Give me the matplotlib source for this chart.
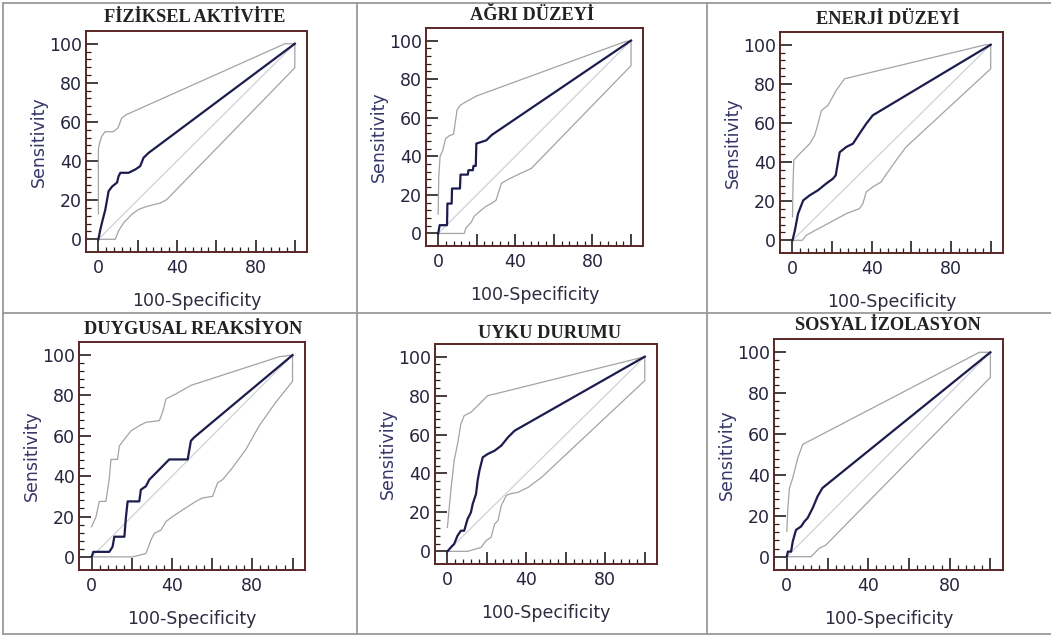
import matplotlib
matplotlib.use("Agg")
import matplotlib.pyplot as plt
from matplotlib.ticker import FixedLocator
from matplotlib.lines import Line2D

titles = ["FİZİKSEL AKTİVİTE", "AĞRI DÜZEYİ", "ENERJİ DÜZEYİ",
          "DUYGUSAL REAKSİYON", "UYKU DURUMU", "SOSYAL İZOLASYON"]

x_label = "100-Specificity"
y_label = "Sensitivity"
major_ticks = [0, 20, 40, 60, 80, 100]
x_tick_labels = ["0", "", "40", "", "80", ""]
y_tick_labels = ["0", "20", "40", "60", "80", "100"]

# --- Panel 1: FİZİKSEL AKTİVİTE ---
fa_roc_x = [0, 1, 2.2, 3.5, 4.4, 5.2, 7, 9.5, 10.3, 11.2, 15.4, 18.8, 21.3, 23, 25.6, 100]
fa_roc_y = [0, 5, 10, 15, 20, 24.6, 27, 29, 32.3, 34, 34, 35.7, 37.4, 41.7, 44.2, 100]
fa_up_x = [0, 0, 0.8, 1.7, 3.4, 7.6, 10, 11.9, 14.4, 95, 100]
fa_up_y = [13, 46, 50, 52.6, 55, 55, 57, 62, 63.8, 100, 100]
fa_lo_x = [0, 8.6, 10.3, 12.9, 14.6, 17.1, 20.5, 24.6, 31.4, 34.7, 100, 100]
fa_lo_y = [0, 0, 4.3, 8.5, 10.2, 12.8, 15.3, 16.8, 18.5, 20.2, 87.7, 100]

# --- Panel 2: AĞRI DÜZEYİ ---
ad_roc_x = [0, 0.8, 4.6, 4.8, 7, 7.2, 11.3, 11.6, 15.4, 15.7, 18, 18.3, 19.5, 19.8, 22, 25, 27.7, 100]
ad_roc_y = [0, 4.3, 4.3, 15.5, 15.5, 23.3, 23.3, 30.5, 30.5, 32.8, 32.8, 35, 35, 46.6, 47.3, 48.3, 51, 100]
ad_up_x = [0, 0.3, 1, 2.4, 3.8, 5.5, 8, 9.8, 11.5, 14, 20, 96.5, 100]
ad_up_y = [10, 29, 40, 43, 49, 50.5, 51.5, 64, 66.5, 68, 71.3, 99.3, 100]
ad_lo_x = [0, 13.5, 14.5, 17, 18.8, 22.2, 24.7, 27.5, 30, 32.8, 36.3, 41.5, 48.3, 100, 100]
ad_lo_y = [0, 0, 3, 5.6, 9, 12, 14, 15.5, 17.2, 26, 28, 30.6, 33.7, 87, 100]

# --- Panel 3: ENERJİ DÜZEYİ ---
ed_roc_x = [0, 1.2, 2.8, 5.4, 8.7, 12.9, 17, 20.4, 21.8, 23.8, 27.1, 30.5, 33.8, 37.2, 40.5, 100]
ed_roc_y = [0, 5, 13.6, 20.4, 23, 25.6, 29, 31.5, 33.2, 45, 47.7, 49.4, 54.5, 59.6, 63.9, 100]
ed_up_x = [0, 0.3, 0.7, 3.7, 8.7, 11.2, 12.9, 14.6, 17.9, 22.1, 26.3, 97.5, 100]
ed_up_y = [12, 30, 41, 44.3, 49.4, 53.7, 59.6, 66.4, 69, 76.7, 82.6, 100, 100]
ed_lo_x = [0, 5, 7, 27.1, 33.8, 35.5, 37.2, 40.5, 44.7, 46.4, 52.3, 57.3, 100, 100]
ed_lo_y = [0, 0, 2.6, 13.6, 16.2, 18.7, 24.7, 27.3, 29.8, 32.4, 40.9, 47.7, 87.7, 100]

# --- Panel 4: DUYGUSAL REAKSİYON ---
dr_roc_x = [0, 0.8, 8.8, 10.4, 11.3, 16.3, 17, 17.9, 23.7, 24.5, 27, 28.7, 33.7, 38.6, 47.8, 49.4, 51, 100]
dr_roc_y = [0, 2.5, 2.5, 5, 10, 10, 19, 27.5, 27.5, 33.3, 35, 38.3, 43.3, 48.3, 48.3, 57.5, 59.2, 100]
dr_up_x = [0, 2.2, 3.8, 7.1, 8.8, 9.6, 12.9, 13.8, 16.3, 19.6, 23.7, 27, 33.7, 35.3, 37, 42, 49.4, 93.4, 100]
dr_up_y = [15, 20, 27.5, 27.5, 39, 48.3, 48.3, 55, 58.3, 62.5, 65, 66.7, 67.5, 71.7, 78.3, 80.8, 85, 99.2, 100]
dr_lo_x = [0, 20.4, 23.7, 27, 29.5, 31.2, 34.5, 37, 40.3, 45.3, 51.9, 55.2, 60.2, 62.7, 65.2, 70.1, 76.8, 83.4, 91.7, 100, 100]
dr_lo_y = [0, 0, 0.8, 1.7, 8.3, 11.7, 13.3, 17.5, 20, 23.3, 27.5, 29.2, 30, 36.7, 38.3, 44.2, 53.3, 65, 76.7, 87, 100]

# --- Panel 5: UYKU DURUMU ---
ud_roc_x = [0, 1.7, 3.4, 5.1, 6.8, 8.5, 10.2, 11.9, 12.8, 14.5, 15.3, 16.2, 17.9, 20.4, 23.9, 27.3, 30.7, 34.1, 100]
ud_roc_y = [0, 2, 3.8, 8, 10.6, 10.6, 16.6, 20, 24.3, 29.5, 36.3, 41.4, 48.3, 50, 51.7, 54.3, 58.6, 62, 100]
ud_up_x = [0, 1.7, 3.4, 5.1, 6.8, 8.5, 11.9, 17, 20.4, 23.9, 95.4, 100]
ud_up_y = [12.3, 31, 46.6, 55, 65.4, 69.7, 71.4, 76.5, 80, 80.8, 98.8, 100]
ud_lo_x = [0, 10.2, 17, 19.6, 22.1, 23.9, 25.6, 27.3, 29.8, 31.5, 35.8, 40.9, 47.7, 100, 100]
ud_lo_y = [0, 0, 2, 5.5, 7.2, 14, 15.8, 23.5, 28.6, 29.5, 30.3, 32.9, 38, 87.7, 100]

# --- Panel 6: SOSYAL İZOLASYON ---
si_roc_x = [0, 0.5, 2.1, 2.9, 4.5, 7, 8.6, 10.2, 12.7, 15.1, 17.5, 21.6, 100]
si_roc_y = [0, 2.5, 2.5, 7.4, 13.1, 14.8, 17.2, 18.9, 23.8, 29.5, 33.6, 36.9, 100]
si_up_x = [0, 0.5, 1.3, 2.9, 5.4, 7.8, 11, 94.6, 100]
si_up_y = [12.3, 23.8, 33.6, 38.5, 48.4, 54.9, 56.6, 100, 100]
si_lo_x = [0, 11.9, 13.5, 15.9, 19.2, 21.6, 100, 100]
si_lo_y = [0, 0, 1.6, 4.1, 5.7, 8.2, 87.7, 100]

panels = [
    (fa_roc_x, fa_roc_y, fa_up_x, fa_up_y, fa_lo_x, fa_lo_y),
    (ad_roc_x, ad_roc_y, ad_up_x, ad_up_y, ad_lo_x, ad_lo_y),
    (ed_roc_x, ed_roc_y, ed_up_x, ed_up_y, ed_lo_x, ed_lo_y),
    (dr_roc_x, dr_roc_y, dr_up_x, dr_up_y, dr_lo_x, dr_lo_y),
    (ud_roc_x, ud_roc_y, ud_up_x, ud_up_y, ud_lo_x, ud_lo_y),
    (si_roc_x, si_roc_y, si_up_x, si_up_y, si_lo_x, si_lo_y),
]

# layout in pixels: frame (left, right, top, bottom) and title centre
W, H = 1051, 637
frames = [(86, 307, 31, 252), (426, 643, 28, 246), (780, 1003, 32, 253),
          (79, 305, 342, 570), (435, 657, 344, 564), (774, 1003, 339, 570)]
title_pos = [(195, 18), (532, 15), (888, 20), (193, 329), (550, 333), (888, 325)]

fig = plt.figure(figsize=(W / 100, H / 100), dpi=100)
fig.patch.set_facecolor("white")

frame_col = "#5a2626"
tick_col = "#2a1c1c"
lab_col = "#25253f"
roc_col = "#1c1c4e"
ci_col = "#a3a3a3"
diag_col = "#d0d0d8"
minor = [v for v in range(4, 100, 4) if v % 20 != 0]

for i, (rx, ry, ux, uy, lx, ly) in enumerate(panels):
    L, R, T, B = frames[i]
    ax = fig.add_axes([L / W, 1 - B / H, (R - L) / W, (B - T) / H])
    ax.set_xlim(-6.3, 106.2)
    ax.set_ylim(-6.5, 106.5)
    ax.plot([0, 100], [0, 100], color=diag_col, lw=0.9, zorder=1)
    ax.plot(ux, uy, color=ci_col, lw=0.9, zorder=2)
    ax.plot(lx, ly, color=ci_col, lw=0.9, zorder=2)
    ax.plot(rx, ry, color=roc_col, lw=1.6, zorder=3)
    for s in ax.spines.values():
        s.set_color(frame_col)
        s.set_linewidth(1.4)
    ax.set_xticks(major_ticks)
    ax.set_xticklabels(x_tick_labels)
    ax.set_yticks(major_ticks)
    ax.set_yticklabels(y_tick_labels)
    ax.xaxis.set_minor_locator(FixedLocator(minor))
    ax.yaxis.set_minor_locator(FixedLocator(minor))
    ax.tick_params(which="major", direction="in", length=8.5, width=1.2, color=tick_col,
                   labelsize=12.5, labelcolor=lab_col)
    ax.tick_params(axis="x", which="major", pad=5)
    ax.tick_params(axis="y", which="major", pad=3)
    ax.tick_params(which="minor", direction="in", length=3.6, width=0.9, color=tick_col)
    for lab in ax.get_xticklabels() + ax.get_yticklabels():
        lab.set_family("DejaVu Sans")
    ax.set_xlabel(x_label, fontsize=12.5, color="#2c2c40", labelpad=11, family="DejaVu Sans")
    ax.set_ylabel(y_label, fontsize=12.5, color="#363668", labelpad=1, family="DejaVu Sans")
    tx, ty = title_pos[i]
    fig.text(tx / W, 1 - ty / H, titles[i], ha="center", va="center",
             family="Liberation Serif", fontweight="bold", fontsize=13.2, color="#222222")

# table grid lines
grid_col = "#9a9a9a"
def hline(y, x0, x1):
    fig.add_artist(Line2D([x0 / W, x1 / W], [1 - y / H, 1 - y / H], color=grid_col, lw=1.3,
                          transform=fig.transFigure))
def vline(x, y0, y1):
    fig.add_artist(Line2D([x / W, x / W], [1 - y0 / H, 1 - y1 / H], color=grid_col, lw=1.3,
                          transform=fig.transFigure))

hline(2.5, 2.5, 1051)
hline(313, 2.5, 1051)
hline(634, 2.5, 1051)
vline(2.5, 2.5, 634)
vline(357, 2.5, 634)
vline(707, 2.5, 634)

fig.savefig("out.png", dpi=100)
